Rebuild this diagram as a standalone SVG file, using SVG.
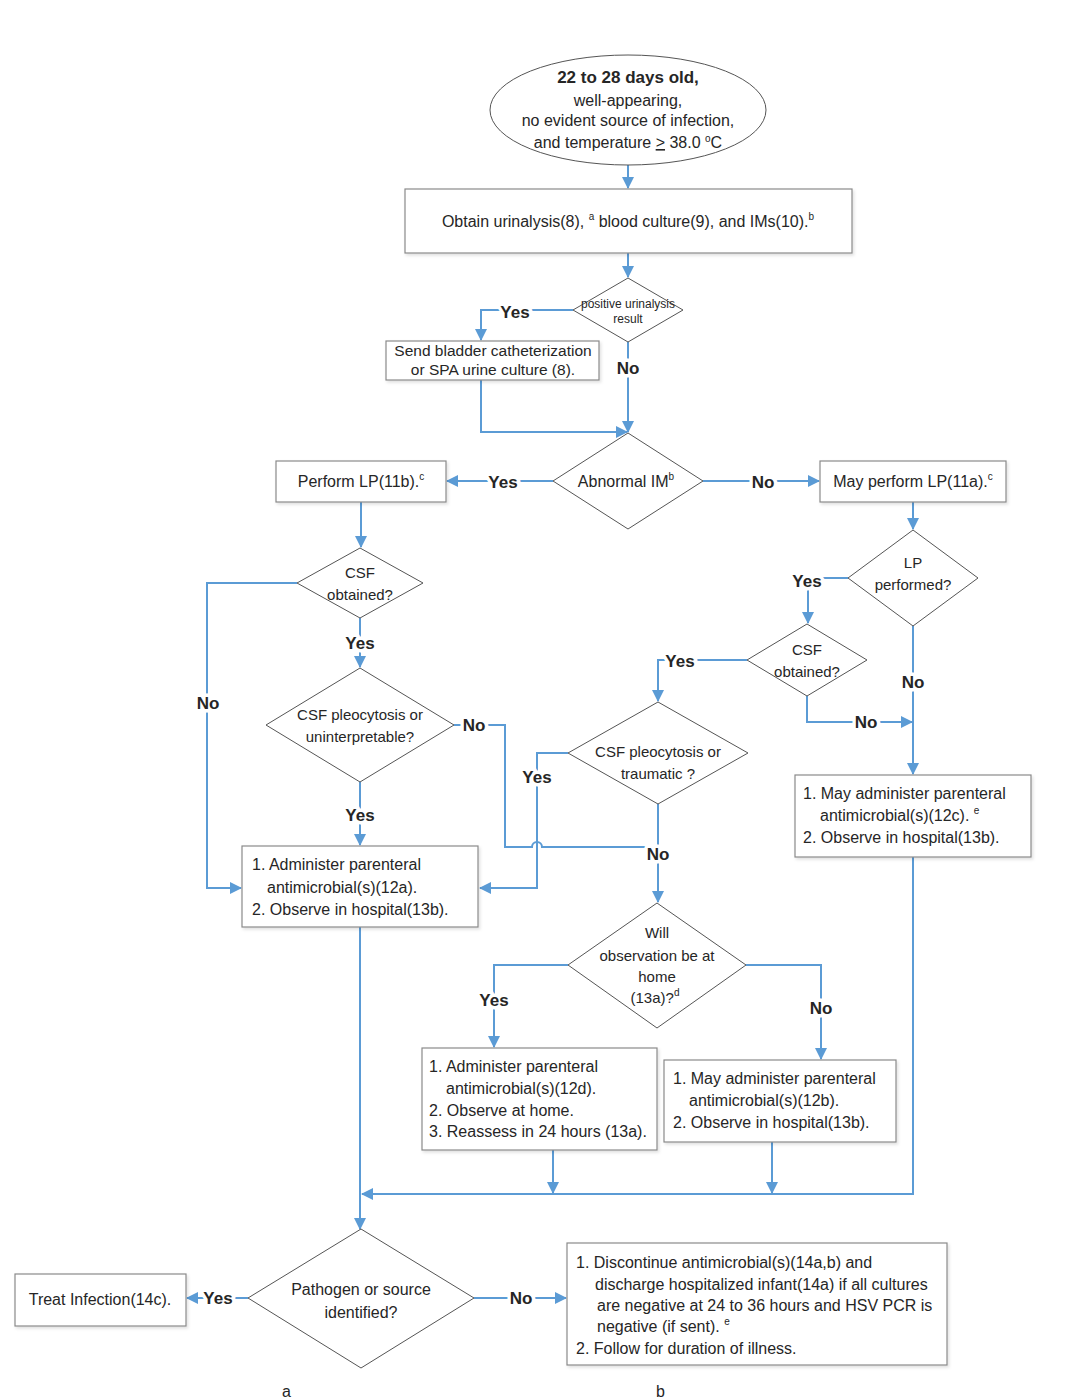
<svg xmlns="http://www.w3.org/2000/svg" width="1075" height="1400" viewBox="0 0 1075 1400">
<style>
.t{font-family:"Liberation Sans",Arial,sans-serif;font-size:16px;fill:#262626}
.d{font-size:15px}
.c{text-anchor:middle}
.sm{font-size:12px}
.lbl{font-family:"Liberation Sans",Arial,sans-serif;font-size:17px;font-weight:bold;fill:#262626;text-anchor:middle;dominant-baseline:central;stroke:#fff;stroke-width:7px;paint-order:stroke;stroke-linejoin:round}
.box{fill:#fff;stroke:#8a8a8a;stroke-width:1.2;filter:url(#sh)}
.dia{fill:#fff;stroke:#555;stroke-width:1}
.con{fill:none;stroke:#5b9bd5;stroke-width:2}
.ar{marker-end:url(#ah)}
</style>
<defs>
<marker id="ah" viewBox="0 0 12 12" refX="11" refY="6" markerWidth="12" markerHeight="12" markerUnits="userSpaceOnUse" orient="auto">
<path d="M0,0 L12,6 L0,12 Z" fill="#5b9bd5"/>
</marker>
<filter id="sh" x="-5%" y="-5%" width="115%" height="130%">
<feDropShadow dx="1.5" dy="2" stdDeviation="1.5" flood-color="#000" flood-opacity="0.12"/>
</filter>
</defs>
<rect width="1075" height="1400" fill="#fff"/>

<g id="connectors">
<path class="con ar" d="M628,165 V188"/>
<path class="con ar" d="M628,253 V277"/>
<path class="con ar" d="M573,310 H481 V340"/>
<path class="con ar" d="M628,342 V432"/>
<path class="con ar" d="M481,380 V432 H627"/>
<path class="con ar" d="M553,481 H447"/>
<path class="con ar" d="M703,481 H819"/>
<path class="con ar" d="M361,502 V547"/>
<path class="con ar" d="M297,583 H207 V888 H241"/>
<path class="con ar" d="M360,618 V667"/>
<path class="con ar" d="M360,782 V845"/>
<path class="con" d="M454,725 H505 V847 H532 A5,5 0 0 1 542,847 H658"/>
<path class="con ar" d="M913,502 V529"/>
<path class="con ar" d="M848,578 H808 V623"/>
<path class="con ar" d="M913,626 V774"/>
<path class="con ar" d="M807,696 V722 H912"/>
<path class="con ar" d="M747,660 H658 V701"/>
<path class="con ar" d="M568,753 H537 V888 H480"/>
<path class="con ar" d="M658,804 V902"/>
<path class="con ar" d="M568,965 H494 V1047"/>
<path class="con ar" d="M746,965 H821 V1059"/>
<path class="con ar" d="M553,1150 V1193"/>
<path class="con ar" d="M772,1142 V1193"/>
<path class="con ar" d="M913,857 V1194 H362"/>
<path class="con ar" d="M360,927 V1229"/>
<path class="con ar" d="M248,1298 H187"/>
<path class="con ar" d="M474,1298 H566"/>
</g>

<g id="labels">
<text class="lbl" x="515" y="312">Yes</text>
<text class="lbl" x="628" y="368">No</text>
<text class="lbl" x="503" y="482">Yes</text>
<text class="lbl" x="763" y="482">No</text>
<text class="lbl" x="360" y="643">Yes</text>
<text class="lbl" x="208" y="703">No</text>
<text class="lbl" x="360" y="815">Yes</text>
<text class="lbl" x="474" y="725">No</text>
<text class="lbl" x="807" y="581">Yes</text>
<text class="lbl" x="913" y="682">No</text>
<text class="lbl" x="866" y="722">No</text>
<text class="lbl" x="680" y="661">Yes</text>
<text class="lbl" x="537" y="777">Yes</text>
<text class="lbl" x="658" y="854">No</text>
<text class="lbl" x="494" y="1000">Yes</text>
<text class="lbl" x="821" y="1008">No</text>
<text class="lbl" x="218" y="1298">Yes</text>
<text class="lbl" x="521" y="1298">No</text>
</g>

<g id="start">
<ellipse cx="628" cy="110" rx="138" ry="55" class="dia"/>
<text class="t c" x="628" y="83" style="font-weight:bold;font-size:17px">22 to 28 days old,</text>
<text class="t c" x="628" y="106">well-appearing,</text>
<text class="t c" x="628" y="126">no evident source of infection,</text>
<text class="t c" x="628" y="148">and temperature <tspan text-decoration="underline">&gt;</tspan> 38.0 <tspan dy="-6" font-size="10">o</tspan><tspan dy="6">C</tspan></text>
</g>

<g id="obtain">
<rect class="box" x="405" y="189" width="447" height="64"/>
<text class="t c" x="628" y="227">Obtain urinalysis(8), <tspan dy="-7" font-size="10">a</tspan><tspan dy="7"> blood culture(9), and IMs(10).</tspan><tspan dy="-7" font-size="10">b</tspan></text>
</g>

<g id="urinalysis">
<polygon class="dia" points="628,278 683,310 628,342 573,310"/>
<text class="t c sm" x="628" y="308">positive urinalysis</text>
<text class="t c sm" x="628" y="323">result</text>
</g>

<g id="send-culture">
<rect class="box" x="386" y="341" width="213" height="39"/>
<text class="t c" x="493" y="356" style="font-size:15.5px">Send bladder catheterization</text>
<text class="t c" x="493" y="375" style="font-size:15.5px">or SPA urine culture (8).</text>
</g>

<g id="abnormal-im">
<polygon class="dia" points="628,433 703,481 628,529 553,481"/>
<text class="t c" x="626" y="487">Abnormal IM<tspan dy="-7" font-size="10">b</tspan></text>
</g>

<g id="perform-lp">
<rect class="box" x="276" y="461" width="170" height="41"/>
<text class="t c" x="361" y="487">Perform LP(11b).<tspan dy="-7" font-size="10">c</tspan></text>
</g>

<g id="may-perform-lp">
<rect class="box" x="820" y="461" width="186" height="41"/>
<text class="t c" x="913" y="487">May perform LP(11a).<tspan dy="-7" font-size="10">c</tspan></text>
</g>

<g id="csf-obtained-left">
<polygon class="dia" points="360,548 423,583 360,618 297,583"/>
<text class="t c d" x="360" y="578">CSF</text>
<text class="t c d" x="360" y="600">obtained?</text>
</g>

<g id="csf-pleo-left">
<polygon class="dia" points="360,668 454,725 360,782 266,725"/>
<text class="t c d" x="360" y="720">CSF pleocytosis or</text>
<text class="t c d" x="360" y="742">uninterpretable?</text>
</g>

<g id="lp-performed">
<polygon class="dia" points="913,530 978,578 913,626 848,578"/>
<text class="t c d" x="913" y="568">LP</text>
<text class="t c d" x="913" y="590">performed?</text>
</g>

<g id="csf-obtained-right">
<polygon class="dia" points="807,624 867,660 807,696 747,660"/>
<text class="t c d" x="807" y="655">CSF</text>
<text class="t c d" x="807" y="677">obtained?</text>
</g>

<g id="csf-pleo-right">
<polygon class="dia" points="658,702 748,753 658,804 568,753"/>
<text class="t c d" x="658" y="757">CSF pleocytosis or</text>
<text class="t c d" x="658" y="779">traumatic ?</text>
</g>

<g id="administer-12a">
<rect class="box" x="242" y="846" width="236" height="81"/>
<text class="t" x="252" y="870">1. Administer parenteral</text>
<text class="t" x="267" y="893">antimicrobial(s)(12a).</text>
<text class="t" x="252" y="915">2. Observe in hospital(13b).</text>
</g>

<g id="may-administer-12c">
<rect class="box" x="795" y="775" width="236" height="82"/>
<text class="t" x="803" y="799">1. May administer parenteral</text>
<text class="t" x="820" y="821">antimicrobial(s)(12c). <tspan dy="-7" font-size="10">e</tspan></text>
<text class="t" x="803" y="843">2. Observe in hospital(13b).</text>
</g>

<g id="observation-home">
<polygon class="dia" points="657,903 746,965 657,1028 568,965"/>
<text class="t c d" x="657" y="938">Will</text>
<text class="t c d" x="657" y="961">observation be at</text>
<text class="t c d" x="657" y="982">home</text>
<text class="t c d" x="655" y="1003">(13a)?<tspan dy="-7" font-size="10">d</tspan></text>
</g>

<g id="administer-12d">
<rect class="box" x="422" y="1048" width="235" height="102"/>
<text class="t" x="429" y="1072">1. Administer parenteral</text>
<text class="t" x="446" y="1094">antimicrobial(s)(12d).</text>
<text class="t" x="429" y="1116">2. Observe at home.</text>
<text class="t" x="429" y="1137">3. Reassess in 24 hours (13a).</text>
</g>

<g id="may-administer-12b">
<rect class="box" x="664" y="1060" width="232" height="82"/>
<text class="t" x="673" y="1084">1. May administer parenteral</text>
<text class="t" x="689" y="1106">antimicrobial(s)(12b).</text>
<text class="t" x="673" y="1128">2. Observe in hospital(13b).</text>
</g>

<g id="pathogen">
<polygon class="dia" points="361,1229 474,1298 361,1368 248,1298"/>
<text class="t c" x="361" y="1295">Pathogen or source</text>
<text class="t c" x="361" y="1318">identified?</text>
</g>

<g id="treat">
<rect class="box" x="15" y="1274" width="171" height="52"/>
<text class="t c" x="100" y="1305">Treat Infection(14c).</text>
</g>

<g id="discharge">
<rect class="box" x="567" y="1243" width="380" height="122"/>
<text class="t" x="576" y="1268">1. Discontinue antimicrobial(s)(14a,b) and</text>
<text class="t" x="595" y="1290">discharge hospitalized infant(14a) if all cultures</text>
<text class="t" x="597" y="1311">are negative at 24 to 36 hours and HSV PCR is</text>
<text class="t" x="597" y="1332">negative (if sent). <tspan dy="-7" font-size="10">e</tspan></text>
<text class="t" x="576" y="1354">2. Follow for duration of illness.</text>
</g>

<g id="footnote-marks">
<text class="t" x="282" y="1397" font-size="8">a</text>
<text class="t" x="656" y="1397" font-size="8">b</text>
</g>
</svg>
